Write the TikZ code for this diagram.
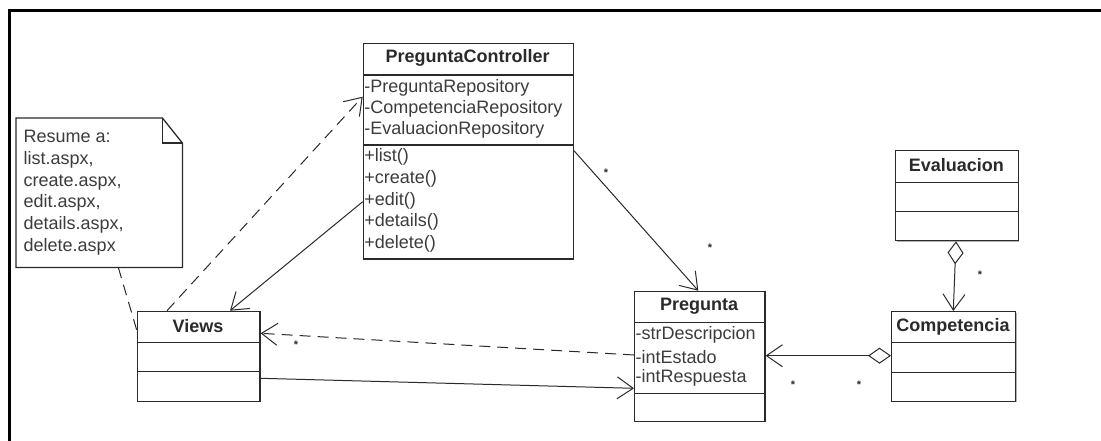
\documentclass[tikz,border=0pt]{standalone}
\usepackage{fontspec}
\setmainfont{Liberation Sans}
\usetikzlibrary{arrows.meta,shadows}
\definecolor{ink}{HTML}{2A2A2A}
\definecolor{txt}{HTML}{3C3C3C}
\tikzset{
  cls/.style={draw=ink, line width=1.3pt, fill=white, inner sep=0pt, anchor=north west,
    drop shadow={shadow xshift=1pt, shadow yshift=-1pt, opacity=0.3, fill=black}},
  ctitle/.style={font=\fontsize{18}{20}\selectfont\bfseries, text=ink, inner sep=0pt},
  attr/.style={font=\fontsize{18}{20}\selectfont, text=txt, anchor=west, inner sep=0pt},
  divider/.style={draw=ink, line width=1.3pt},
  mult/.style={font=\fontsize{11}{11}\selectfont\bfseries, text=ink, inner sep=0pt},
  link/.style={draw=ink, line width=1pt},
  dashlink/.style={link, dash pattern=on 11pt off 7pt},
  barb/.style={-{Straight Barb[length=16pt,width=22pt,line width=1pt]}},
  agg/.style={{Diamond[open,length=23pt,width=16pt,line width=1pt]}-{Straight Barb[length=16pt,width=22pt,line width=1pt]}},
}
\begin{document}
\begin{tikzpicture}[x=1pt,y=-1pt]
\useasboundingbox (0,0) rectangle (1101,441);

% outer frame
\draw[line width=3pt, black] (9.7,441) -- (9.7,10.3) -- (1101,10.3);

% note
\node[inner sep=0pt, minimum width=166pt, minimum height=149pt, anchor=north west] (note) at (16,118) {};
\draw[ink, line width=1.3pt, fill=white]
  (note.north west) -- ([xshift=-20pt]note.north east) -- ([yshift=-25pt]note.north east)
  -- (note.south east) -- (note.south west) -- cycle;
\draw[ink, line width=1.3pt]
  ([xshift=-20pt]note.north east) -- ([xshift=-20pt,yshift=-25pt]note.north east) -- ([yshift=-25pt]note.north east);
\node[attr, anchor=north west, align=left, font=\fontsize{18}{21.8}\selectfont] (notetext) at (23.5,130)
  {Resume a:\\list.aspx,\\create.aspx,\\edit.aspx,\\details.aspx,\\delete.aspx};

% PreguntaController
\node[cls, minimum width=210pt, minimum height=215.6pt] (pc) at (362.7,42.7) {};
\draw[divider] ([yshift=-32.3pt]pc.north west) -- ([yshift=-32.3pt]pc.north east);
\draw[divider] ([yshift=-102.3pt]pc.north west) -- ([yshift=-102.3pt]pc.north east);
\node[ctitle] (pct) at (467.7,58) {PreguntaController};
\node[attr] (pca1) at (364.2,88) {-PreguntaRepository};
\node[attr] (pca2) at (364.2,109) {-CompetenciaRepository};
\node[attr] (pca3) at (364.2,130) {-EvaluacionRepository};
\node[attr] (pcm1) at (364.2,157) {+list()};
\node[attr] (pcm2) at (364.2,179) {+create()};
\node[attr] (pcm3) at (364.2,200.5) {+edit()};
\node[attr] (pcm4) at (364.2,222) {+details()};
\node[attr] (pcm5) at (364.2,243.5) {+delete()};

% Views
\node[cls, minimum width=122.6pt, minimum height=90pt] (views) at (136.7,310.7) {};
\draw[divider] ([yshift=-32pt]views.north west) -- ([yshift=-32pt]views.north east);
\draw[divider] ([yshift=-61pt]views.north west) -- ([yshift=-61pt]views.north east);
\node[ctitle] (viewst) at (198,326) {Views};

% Pregunta
\node[cls, minimum width=130.3pt, minimum height=130pt] (preg) at (634,290.7) {};
\draw[divider] ([yshift=-31.6pt]preg.north west) -- ([yshift=-31.6pt]preg.north east);
\draw[divider] ([yshift=-102.6pt]preg.north west) -- ([yshift=-102.6pt]preg.north east);
\node[ctitle] (pregt) at (699,306) {Pregunta};
\node[attr] (prega1) at (635.5,335) {-strDescripcion};
\node[attr] (prega2) at (635.5,356.7) {-intEstado};
\node[attr] (prega3) at (635.5,378.3) {-intRespuesta};

% Evaluacion
\node[cls, minimum width=122.7pt, minimum height=90pt] (eval) at (895,150) {};
\draw[divider] ([yshift=-32.3pt]eval.north west) -- ([yshift=-32.3pt]eval.north east);
\draw[divider] ([yshift=-61.7pt]eval.north west) -- ([yshift=-61.7pt]eval.north east);
\node[ctitle] (evalt) at (956.3,165) {Evaluacion};

% Competencia
\node[cls, minimum width=124pt, minimum height=89.7pt] (comp) at (891,311) {};
\draw[divider] ([yshift=-31.7pt]comp.north west) -- ([yshift=-31.7pt]comp.north east);
\draw[divider] ([yshift=-61.3pt]comp.north west) -- ([yshift=-61.3pt]comp.north east);
\node[ctitle] (compt) at (953,326.7) {Competencia};

% connectors
\draw[dashlink] ([xshift=102.3pt]note.south west) -- ([yshift=-19.3pt]views.north west);
\draw[dashlink, barb] ([xshift=30.3pt]views.north west) -- ([yshift=-54pt]pc.north west);
\draw[link, barb] ([yshift=-159pt]pc.north west) -- ([xshift=93.3pt]views.north west);
\draw[link, barb] ([yshift=-108pt]pc.north east) -- ([xshift=64.3pt]preg.north west);
\draw[dashlink, barb] ([yshift=-64.3pt]preg.north west) -- ([yshift=-22.6pt]views.north east);
\draw[link, barb] ([yshift=-67.6pt]views.north east) -- ([yshift=-97.6pt]preg.north west);
\draw[link, agg] ([yshift=-44.7pt]comp.north west) -- ([yshift=-65pt]preg.north east);
\draw[link, agg] ([xshift=61pt]eval.south west) -- ([xshift=62.3pt]comp.north west);

% multiplicities
\node[mult] (m1) at (606,173) {*};
\node[mult] (m2) at (710,248) {*};
\node[mult] (m3) at (296,345) {*};
\node[mult] (m4) at (793,385) {*};
\node[mult] (m5) at (859,385) {*};
\node[mult] (m6) at (980,275) {*};
\end{tikzpicture}
\end{document}
